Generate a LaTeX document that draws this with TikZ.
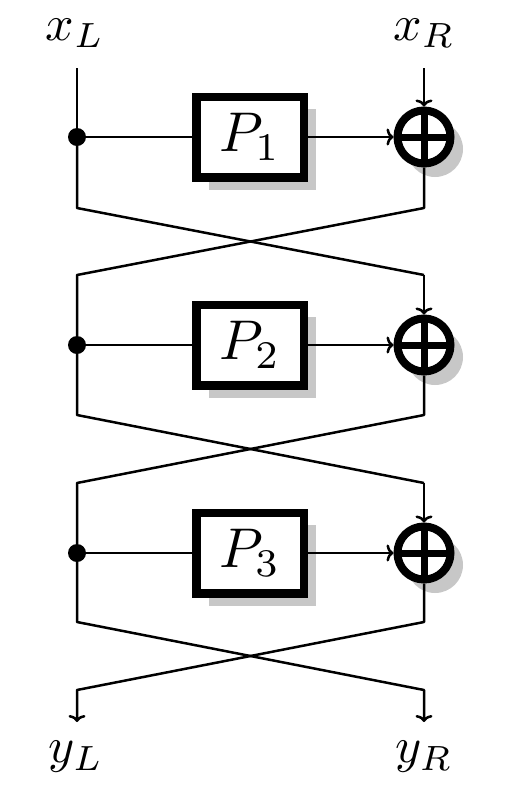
\documentclass[tikz,border=0pt]{standalone}
\usetikzlibrary{arrows.meta}
\begin{document}
\begin{tikzpicture}[x=1pt,y=-1pt,
  wire/.style={line width=2.5pt},
  tip/.style={-{To[length=7pt,width=17pt,line width=2.5pt]}},
  pbox/.style={draw,line width=8.5pt,fill=white,minimum width=107.5pt,minimum height=80.5pt,inner sep=0pt},
  xorc/.style={circle,draw,line width=8pt,fill=white,minimum size=53pt,inner sep=0pt},
  shade/.style={fill=black!22},
  dotn/.style={circle,fill=black,minimum size=18pt,inner sep=0pt},
  lbl/.style={scale=5},
  plbl/.style={scale=5.6}]
\useasboundingbox (0,0) rectangle (510,796);
% labels
\node[lbl] (xl) at (75,33) {$x_L$};
\node[lbl] (xr) at (424,33) {$x_R$};
\node[lbl] (yl) at (76,757) {$y_L$};
\node[lbl] (yr) at (424,757) {$y_R$};
\coordinate (tl) at (77,68);
\coordinate (tr) at (424,68);
% shadows
\foreach \i/\y in {1/137,2/345,3/553}{
  \fill[shade] (209,\y-28) rectangle (316,\y+53);
  \fill[shade] (435,\y+12) circle (28);
}
% nodes
\foreach \i/\y in {1/137,2/345,3/553}{
  \node[dotn] (d\i) at (77,\y) {};
  \node[pbox] (P\i) at (250,\y) {};
  \node[xorc] (o\i) at (424,\y) {};
  \node[plbl] at (P\i) {$P_\i$};
}
% crossing points
\coordinate (a1) at (77,208); \coordinate (b1) at (424,275);
\coordinate (c1) at (424,208); \coordinate (e1) at (77,275);
\coordinate (a2) at (77,415); \coordinate (b2) at (424,483);
\coordinate (c2) at (424,415); \coordinate (e2) at (77,483);
\coordinate (a3) at (77,622); \coordinate (b3) at (424,690);
\coordinate (c3) at (424,622); \coordinate (e3) at (77,690);
\coordinate (fl) at (77,722); \coordinate (fr) at (424,722);
% wires
\draw[wire] (tl) -- (d1);
\draw[wire,tip] (tr) -- (o1.north);
\foreach \i in {1,2,3}{
  \draw[wire] (d\i) -- (P\i.west);
  \draw[wire,tip] (P\i.east) -- (o\i.west);
  \draw[line width=7pt] (o\i.center) ++(0,-27) -- ++(0,54);
  \draw[line width=7pt] (o\i.center) ++(-27,0) -- ++(54,0);
}
\draw[wire,line join=round] (d1) -- (a1) -- (b1);
\draw[wire,tip] (b1) -- (o2.north);
\draw[wire,line join=round] (o1.south) -- (c1) -- (e1) -- (d2);
\draw[wire,line join=round] (d2) -- (a2) -- (b2);
\draw[wire,tip] (b2) -- (o3.north);
\draw[wire,line join=round] (o2.south) -- (c2) -- (e2) -- (d3);
\draw[wire,line join=round,tip] (d3) -- (a3) -- (b3) -- (fr);
\draw[wire,line join=round,tip] (o3.south) -- (c3) -- (e3) -- (fl);
\end{tikzpicture}
\end{document}
